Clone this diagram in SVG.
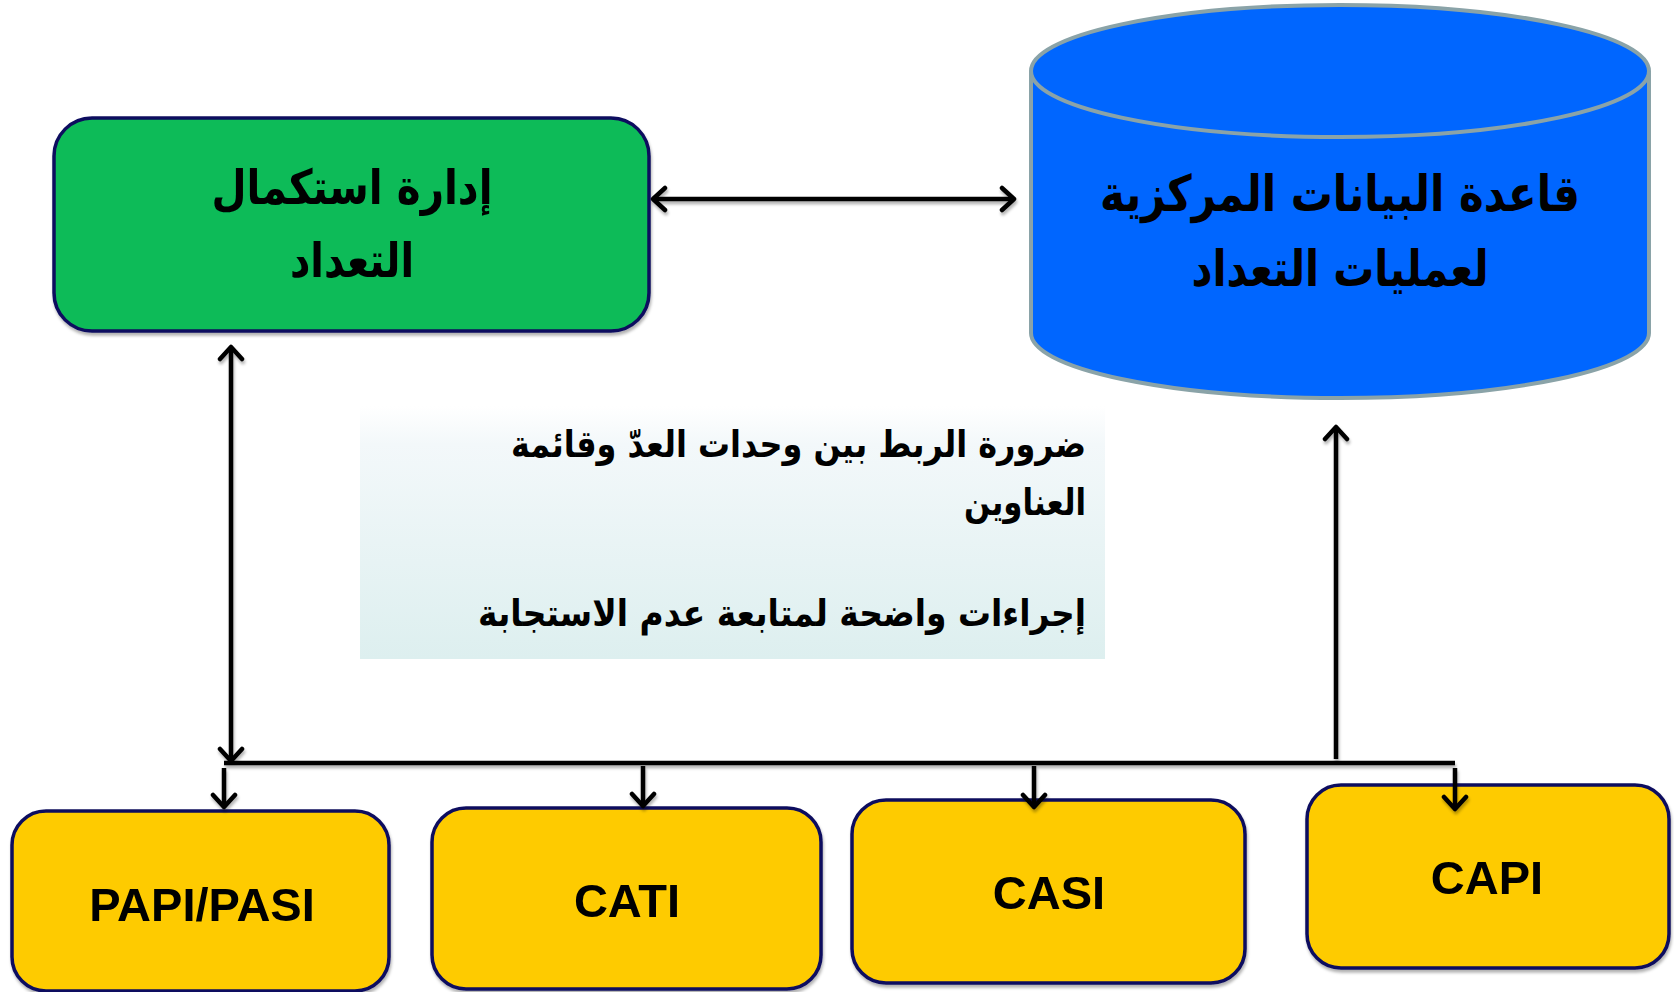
<svg xmlns="http://www.w3.org/2000/svg" width="1674" height="992" viewBox="0 0 1674 992">
<style>
.box{stroke:#0c0c5e;stroke-width:3.5}
.green{fill:#08bb58}
.yellow{fill:#fecb05}
.ar{font-family:"DejaVu Sans","Noto Sans",sans-serif;font-weight:bold;fill:#000}
.lat{font-family:"Liberation Sans",Arial,sans-serif;font-weight:bold;fill:#000;text-anchor:middle}
.con{stroke:#000;fill:none;stroke-width:4.5}
</style>
<defs>
<linearGradient id="note" x1="0" y1="0" x2="0" y2="1">
<stop offset="0" stop-color="#ffffff"/>
<stop offset="0.15" stop-color="#f3f8fa"/>
<stop offset="1" stop-color="#ddefef"/>
</linearGradient>
<marker id="ah" markerUnits="userSpaceOnUse" markerWidth="30" markerHeight="30" refX="15" refY="13" orient="auto-start-reverse" viewBox="0 0 30 26">
<path d="M3,2 L15,13 L3,24" fill="none" stroke="#000" stroke-width="4.5" stroke-linecap="round" stroke-linejoin="round"/>
</marker>
<filter id="sh" x="-5%" y="-5%" width="110%" height="120%">
<feDropShadow dx="1" dy="3" stdDeviation="1.5" flood-color="#000" flood-opacity="0.3"/>
</filter>
</defs>
<rect width="1674" height="992" fill="#fff"/>

<g id="note-box">
<rect x="360" y="406" width="745" height="253" fill="url(#note)"/>
<text class="ar" font-size="37" text-anchor="end" x="1086" y="457" textLength="575" lengthAdjust="spacingAndGlyphs">ضرورة الربط بين وحدات العدّ وقائمة</text>
<text class="ar" font-size="37" text-anchor="end" x="1086" y="515" textLength="122" lengthAdjust="spacingAndGlyphs">العناوين</text>
<text class="ar" font-size="37" text-anchor="end" x="1086" y="626" textLength="608" lengthAdjust="spacingAndGlyphs">إجراءات واضحة لمتابعة عدم الاستجابة</text>
</g>

<g id="census-management" filter="url(#sh)">
<rect class="box green" x="54" y="118" width="595" height="213" rx="38"/>
<text class="ar" font-size="48" text-anchor="middle" x="352" y="204" textLength="281" lengthAdjust="spacingAndGlyphs">إدارة استكمال</text>
<text class="ar" font-size="48" text-anchor="middle" x="352" y="277" textLength="124" lengthAdjust="spacingAndGlyphs">التعداد</text>
</g>

<g id="central-database">
<path d="M1031,71 L1031,333 A309,65 0 0 0 1649,333 L1649,71" fill="#0066ff" stroke="#8aa3a8" stroke-width="4"/>
<ellipse cx="1340" cy="71" rx="309" ry="66" fill="#0066ff" stroke="#8aa3a8" stroke-width="4"/>
<text class="ar" font-size="50" text-anchor="middle" x="1340" y="211" textLength="480" lengthAdjust="spacingAndGlyphs">قاعدة البيانات المركزية</text>
<text class="ar" font-size="50" text-anchor="middle" x="1340" y="286" textLength="297" lengthAdjust="spacingAndGlyphs">لعمليات التعداد</text>
</g>

<g id="papi" filter="url(#sh)">
<rect class="box yellow" x="12" y="811" width="377" height="180" rx="34"/>
<text class="lat" font-size="47" x="202" y="921">PAPI/PASI</text>
</g>
<g id="cati" filter="url(#sh)">
<rect class="box yellow" x="432" y="808" width="389" height="181" rx="34"/>
<text class="lat" font-size="47" x="627" y="917">CATI</text>
</g>
<g id="casi" filter="url(#sh)">
<rect class="box yellow" x="852" y="800" width="393" height="183" rx="34"/>
<text class="lat" font-size="47" x="1049" y="909">CASI</text>
</g>
<g id="capi" filter="url(#sh)">
<rect class="box yellow" x="1307" y="785" width="362" height="183" rx="34"/>
<text class="lat" font-size="47" x="1487" y="894">CAPI</text>
</g>

<g id="connectors" filter="url(#sh)">
<line class="con" x1="653" y1="199" x2="1014" y2="199" marker-start="url(#ah)" marker-end="url(#ah)"/>
<line class="con" x1="231" y1="347" x2="231" y2="761" marker-start="url(#ah)" marker-end="url(#ah)"/>
<line class="con" x1="224" y1="763" x2="1455" y2="763" stroke-width="5.5"/>
<line class="con" x1="1336" y1="759" x2="1336" y2="427" marker-end="url(#ah)"/>
<line class="con" x1="224" y1="768" x2="224" y2="807" marker-end="url(#ah)"/>
<line class="con" x1="643" y1="766" x2="643" y2="806" marker-end="url(#ah)"/>
<line class="con" x1="1034" y1="766" x2="1034" y2="807" marker-end="url(#ah)"/>
<line class="con" x1="1455" y1="768" x2="1455" y2="809" marker-end="url(#ah)"/>
</g>
</svg>
